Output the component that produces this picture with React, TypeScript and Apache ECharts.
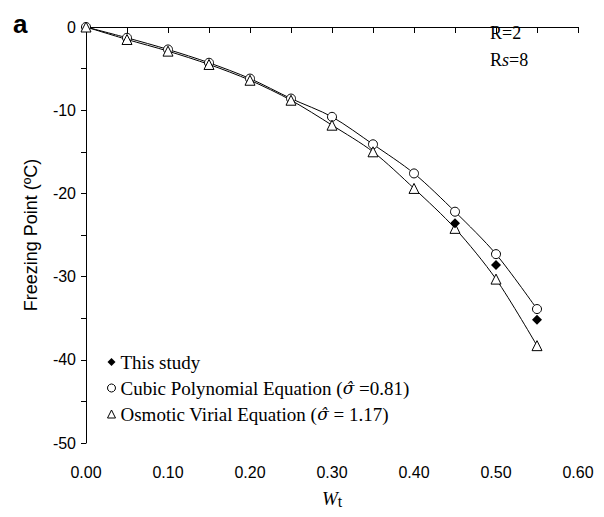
import React, { useEffect, useRef } from "react";
import * as echarts from "echarts";

const wt = [0, 0.05, 0.1, 0.15, 0.2, 0.25, 0.3, 0.35, 0.4, 0.45, 0.5, 0.55];
const cubicFP = [0, -1.3, -2.7, -4.3, -6.2, -8.6, -10.8, -14.1, -17.6, -22.2, -27.3, -33.9];
const virialFP = [0, -1.5, -2.9, -4.5, -6.4, -8.8, -11.8, -15.0, -19.4, -24.2, -30.3, -38.3];
const studyWt = [0.45, 0.5, 0.55];
const studyFP = [-23.6, -28.6, -35.2];
const seriesNames = ["This study", "Cubic Polynomial Equation", "Osmotic Virial Equation"];
const sigmaText = ["=0.81", "= 1.17"];

const SERIF = "'Liberation Serif', 'Times New Roman', serif";
const SANS = "'Liberation Sans', Arial, sans-serif";

export default function App() {
  const ref = useRef<HTMLDivElement>(null);
  useEffect(() => {
    if (!ref.current) return;
    const chart = echarts.init(ref.current, null, { renderer: "svg" });
    const option = {
      animation: false,
      backgroundColor: "#fff",
      grid: { left: 78, right: 26, top: 19, bottom: 74 },
      legend: {
        orient: "vertical",
        left: 94,
        top: 339,
        itemWidth: 8,
        itemHeight: 8,
        itemGap: 6,
        itemTextGap: 8,
        selectedMode: false,
        data: [
          { name: seriesNames[0], icon: "diamond", itemStyle: { color: "#000", opacity: 1 } },
          { name: seriesNames[1], icon: "circle", itemStyle: { color: "#fff", borderColor: "#000", borderWidth: 1 } },
          { name: seriesNames[2], icon: "triangle", itemStyle: { color: "#fff", borderColor: "#000", borderWidth: 1 } },
        ],
        formatter: (name: string) => {
          if (name === seriesNames[1]) return `${name} ({s|σ̂} ${sigmaText[0]})`;
          if (name === seriesNames[2]) return `${name} ({s|σ̂} ${sigmaText[1]})`;
          return name;
        },
        textStyle: {
          fontFamily: SERIF,
          fontSize: 19,
          color: "#000",
          lineHeight: 20,
          rich: {
            s: { fontFamily: "'DejaVu Serif', serif", fontSize: 17, fontStyle: "italic", color: "#000" },
          },
        },
      },
      xAxis: {
        type: "value",
        min: 0,
        max: 0.6,
        interval: 0.1,
        name: "{w|W}{t|t}",
        nameLocation: "middle",
        nameGap: 44,
        nameTextStyle: {
          rich: {
            w: { fontFamily: SERIF, fontSize: 19, fontStyle: "italic", color: "#000" },
            t: { fontFamily: SERIF, fontSize: 16, color: "#000", verticalAlign: "bottom", padding: [6, 0, 0, 0] },
          },
        },
        axisLine: { show: true, lineStyle: { color: "#000", width: 1 } },
        axisTick: { show: true, length: 6, lineStyle: { color: "#000" } },
        minorTick: { show: true, splitNumber: 2, length: 6, lineStyle: { color: "#000" } },
        splitLine: { show: false },
        axisLabel: {
          formatter: (v: number) => v.toFixed(2),
          fontFamily: SANS,
          fontSize: 16,
          color: "#000",
          margin: 21,
        },
      },
      yAxis: {
        type: "value",
        min: -50,
        max: 0,
        interval: 10,
        name: "Freezing Point (ºC)",
        nameLocation: "middle",
        nameGap: 46,
        nameRotate: 90,
        nameTextStyle: { fontFamily: SANS, fontSize: 18, color: "#000" },
        axisLine: { show: true, lineStyle: { color: "#000", width: 1 } },
        axisTick: { show: true, length: 5, lineStyle: { color: "#000" } },
        minorTick: { show: true, splitNumber: 2, length: 5, lineStyle: { color: "#000" } },
        splitLine: { show: false },
        axisLabel: { fontFamily: SANS, fontSize: 16, color: "#000", margin: 10 },
      },
      series: [
        {
          name: seriesNames[1],
          type: "line",
          smooth: 0.3,
          data: wt.map((x, i) => [x, cubicFP[i]]),
          symbol: "circle",
          symbolSize: 9,
          lineStyle: { color: "#000", width: 1 },
          itemStyle: { color: "#fff", borderColor: "#000", borderWidth: 1 },
          z: 2,
        },
        {
          name: seriesNames[2],
          type: "line",
          smooth: 0.3,
          data: wt.map((x, i) => [x, virialFP[i]]),
          symbol: "triangle",
          symbolSize: 10,
          lineStyle: { color: "#000", width: 1 },
          itemStyle: { color: "#fff", borderColor: "#000", borderWidth: 1 },
          z: 2,
        },
        {
          name: seriesNames[0],
          type: "scatter",
          data: studyWt.map((x, i) => [x, studyFP[i]]),
          symbol: "diamond",
          symbolSize: 10,
          itemStyle: { color: "#000", opacity: 1 },
          z: 4,
        },
      ],
      graphic: [
        {
          type: "text",
          left: 5,
          top: 3,
          style: { text: "a", fontFamily: SANS, fontWeight: "bold", fontSize: 26, fill: "#000" },
        },
        {
          type: "text",
          left: 482,
          top: 16,
          style: { text: "R=2", fontFamily: SERIF, fontSize: 18, fill: "#000" },
        },
        {
          type: "text",
          left: 482,
          top: 43,
          style: {
            text: "R{i|s}=8",
            fontFamily: SERIF,
            fontSize: 18,
            fill: "#000",
            rich: { i: { fontFamily: SERIF, fontSize: 18, fontStyle: "italic", fill: "#000" } },
          },
        },
      ],
    };
    chart.setOption(option as any);
    return () => chart.dispose();
  }, []);
  return <div ref={ref} style={{ width: 596, height: 509 }} />;
}
